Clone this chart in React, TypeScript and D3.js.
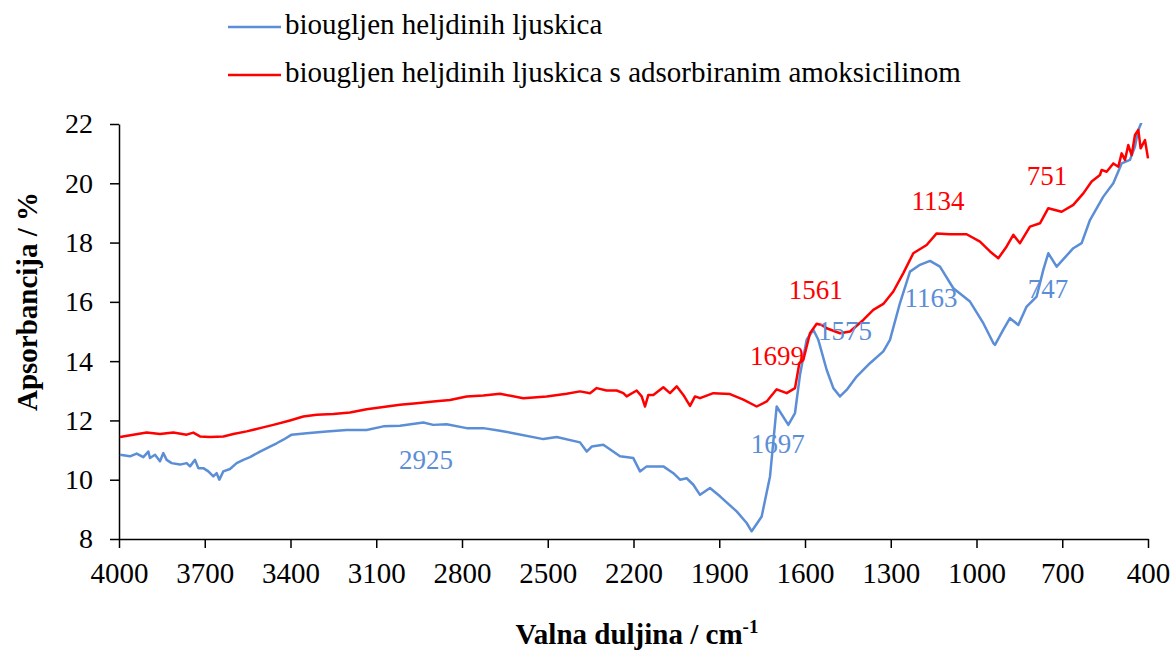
import React, { useEffect, useRef } from 'react';
import * as d3 from 'd3';

// FTIR spectrum, biochar from buckwheat husks (blue) and with adsorbed amoxicillin (red)
const blueWave = [
  3996.5, 3961.5, 3938.2, 3914.9, 3897.4, 3891.6, 3874.1, 3856.6, 3844.9, 3833.3,
  3815.8, 3786.6, 3763.3, 3751.6, 3734.1, 3722.5, 3705.0, 3687.5, 3670.0, 3658.3,
  3649.0, 3635.0, 3611.7, 3588.4, 3565.1, 3541.7, 3506.7, 3471.8, 3448.5, 3425.1,
  3396.0, 3343.5, 3273.5, 3203.6, 3133.6, 3075.3, 3017.0, 2935.3, 2900.3, 2853.7,
  2783.7, 2725.4, 2667.1, 2620.4, 2515.4, 2468.8, 2387.1, 2363.8, 2346.3, 2305.5,
  2247.2, 2200.6, 2177.3, 2153.9, 2095.6, 2060.6, 2037.3, 2014.0, 1990.6, 1967.3,
  1932.4, 1897.4, 1839.1, 1804.1, 1786.6, 1763.3, 1751.6, 1722.4, 1699.1, 1658.3,
  1635.0, 1617.5, 1594.2, 1570.9, 1553.4, 1524.3, 1500.9, 1477.6, 1454.3, 1419.3,
  1372.7, 1326.0, 1302.7, 1267.7, 1232.7, 1197.7, 1162.8, 1127.8, 1081.1, 1022.8,
  976.2, 941.2, 935.3, 906.2, 882.9, 853.7, 824.6, 789.6, 766.3, 748.8,
  719.6, 661.3, 632.1, 603.0, 556.3, 521.4, 492.2, 463.1, 445.6, 433.9,
  416.4, 400.0,
];
const blueAbs = [
  10.84, 10.79, 10.88, 10.76, 10.95, 10.73, 10.84, 10.62, 10.90, 10.67,
  10.56, 10.51, 10.56, 10.45, 10.67, 10.39, 10.39, 10.28, 10.11, 10.22,
  10.00, 10.28, 10.36, 10.56, 10.67, 10.76, 10.95, 11.12, 11.23, 11.35,
  11.52, 11.57, 11.63, 11.68, 11.68, 11.80, 11.82, 11.93, 11.85, 11.87,
  11.74, 11.74, 11.65, 11.57, 11.37, 11.44, 11.26, 10.95, 11.12, 11.18,
  10.79, 10.73, 10.28, 10.45, 10.45, 10.22, 10.00, 10.05, 9.83, 9.49,
  9.72, 9.44, 8.93, 8.54, 8.26, 8.59, 8.76, 10.11, 12.47, 11.85,
  12.25, 13.54, 14.72, 15.06, 14.72, 13.71, 13.09, 12.81, 13.03, 13.48,
  13.93, 14.33, 14.72, 15.96, 17.02, 17.25, 17.38, 17.19, 16.46, 16.01,
  15.28, 14.61, 14.55, 15.06, 15.45, 15.22, 15.84, 16.18, 17.08, 17.64,
  17.19, 17.81, 17.98, 18.76, 19.55, 20.00, 20.67, 20.79, 21.24, 21.80,
  22.20, 22.30,
];

const redWave = [
  3996.5, 3949.9, 3903.2, 3856.6, 3810.0, 3763.3, 3740.0, 3716.7, 3681.7, 3635.0,
  3600.0, 3553.4, 3506.7, 3460.1, 3401.8, 3355.2, 3308.6, 3250.2, 3191.9, 3133.6,
  3075.3, 3017.0, 2958.6, 2900.3, 2842.0, 2783.7, 2725.4, 2667.0, 2585.4, 2503.8,
  2433.8, 2387.1, 2352.2, 2328.8, 2293.9, 2258.9, 2235.5, 2223.9, 2188.9, 2171.4,
  2159.7, 2148.1, 2130.6, 2095.6, 2072.3, 2049.0, 2025.6, 2002.3, 1984.8, 1967.3,
  1920.7, 1862.4, 1815.7, 1769.1, 1734.1, 1699.1, 1664.1, 1635.0, 1619.8, 1605.9,
  1582.6, 1559.2, 1541.8, 1524.3, 1477.6, 1442.6, 1396.0, 1361.0, 1326.0, 1291.0,
  1256.0, 1221.1, 1174.4, 1139.4, 1092.8, 1034.5, 987.8, 952.8, 923.7, 894.5,
  871.2, 847.9, 812.9, 777.9, 748.8, 702.1, 661.3, 626.3, 597.2, 568.0,
  562.2, 544.7, 521.4, 503.9, 492.2, 480.6, 468.9, 457.2, 445.6, 433.9,
  425.7, 410.6, 400.0,
];
const redAbs = [
  11.44, 11.52, 11.59, 11.54, 11.59, 11.52, 11.59, 11.46, 11.44, 11.46,
  11.54, 11.63, 11.74, 11.85, 12.00, 12.13, 12.19, 12.22, 12.27, 12.38,
  12.45, 12.53, 12.58, 12.64, 12.69, 12.81, 12.84, 12.90, 12.75, 12.81,
  12.90, 12.98, 12.92, 13.09, 13.01, 13.01, 12.92, 12.81, 13.01, 12.81,
  12.47, 12.86, 12.86, 13.12, 12.92, 13.15, 12.86, 12.49, 12.81, 12.75,
  12.92, 12.89, 12.70, 12.47, 12.64, 13.05, 12.92, 13.09, 13.93, 14.04,
  14.94, 15.26, 15.22, 15.11, 14.94, 15.00, 15.39, 15.73, 15.93, 16.35,
  16.97, 17.64, 17.92, 18.31, 18.28, 18.28, 18.03, 17.70, 17.47, 17.87,
  18.26, 17.98, 18.54, 18.65, 19.16, 19.04, 19.27, 19.66, 20.06, 20.28,
  20.45, 20.39, 20.67, 20.56, 21.01, 20.79, 21.29, 20.95, 21.63, 21.80,
  21.18, 21.46, 20.84,
];

const xTicks = [4000, 3700, 3400, 3100, 2800, 2500, 2200, 1900, 1600, 1300, 1000, 700, 400];
const yTicks = [8, 10, 12, 14, 16, 18, 20, 22];

const seriesNames = [
  'biougljen heljdinih ljuskica',
  'biougljen heljdinih ljuskica s adsorbiranim amoksicilinom',
];

// peak labels: text, position in data units, series index
const peakText = ['2925', '1697', '1575', '1163', '747', '1699', '1561', '1134', '751'];
const peakWave = [2926, 1695, 1460, 1159, 750, 1698, 1562, 1135, 753];
const peakAbs = [10.37, 10.91, 14.72, 15.83, 16.13, 13.88, 16.1, 19.1, 19.94];
const peakSeries = [0, 0, 0, 0, 0, 1, 1, 1, 1];

const colors = ['#5B8ED6', '#FF0000'];
const font = "'Times New Roman', 'Liberation Serif', serif";

const App = () => {
  const svgRef = useRef<SVGSVGElement>(null);

  useEffect(() => {
    const width = 1174;
    const height = 653;
    const margin = { top: 124, right: 26, bottom: 114, left: 119 };

    const svg = d3.select(svgRef.current);
    svg.selectAll('*').remove();

    const x = d3.scaleLinear().domain([4000, 400]).range([margin.left, width - margin.right]);
    const y = d3.scaleLinear().domain([8, 22]).range([height - margin.bottom, margin.top]);

    svg.append('defs').append('clipPath').attr('id', 'plot-clip')
      .append('rect')
      .attr('x', margin.left)
      .attr('y', margin.top - 1)
      .attr('width', width - margin.left - margin.right + 2)
      .attr('height', height - margin.top - margin.bottom + 1);

    // axes
    const yAxis = svg.append('g')
      .attr('transform', `translate(${margin.left},0)`)
      .call(d3.axisLeft(y).tickValues(yTicks).tickFormat(d3.format('d')).tickSize(9).tickPadding(17).tickSizeOuter(0));
    const xAxis = svg.append('g')
      .attr('transform', `translate(0,${height - margin.bottom})`)
      .call(d3.axisBottom(x).tickValues(xTicks).tickFormat(d3.format('d')).tickSize(9).tickPadding(14).tickSizeOuter(0));

    yAxis.attr('font-size', 28);
    xAxis.attr('font-size', 29);
    [yAxis, xAxis].forEach(g => {
      g.attr('font-family', font);
      g.select('.domain').attr('stroke', '#000').attr('stroke-width', 1.5);
      g.selectAll('.tick line').attr('stroke', '#000').attr('stroke-width', 1.5);
      g.selectAll('.tick text').attr('fill', '#000');
    });

    // curves
    const line = d3.line<[number, number]>()
      .x(d => x(d[0]))
      .y(d => y(d[1]));

    const series = [
      d3.zip(blueWave, blueAbs) as [number, number][],
      d3.zip(redWave, redAbs) as [number, number][],
    ];

    svg.append('g')
      .attr('clip-path', 'url(#plot-clip)')
      .selectAll('path')
      .data(series)
      .enter()
      .append('path')
      .attr('d', d => line(d))
      .attr('fill', 'none')
      .attr('stroke', (d, i) => colors[i])
      .attr('stroke-width', 2.5)
      .attr('stroke-linejoin', 'round');

    // peak labels
    svg.append('g')
      .attr('font-family', font)
      .attr('font-size', 27)
      .selectAll('text')
      .data(peakText)
      .enter()
      .append('text')
      .attr('x', (d, i) => x(peakWave[i]))
      .attr('y', (d, i) => y(peakAbs[i]))
      .attr('text-anchor', 'middle')
      .attr('fill', (d, i) => colors[peakSeries[i]])
      .text(d => d);

    // legend
    const legend = svg.append('g')
      .attr('font-family', font)
      .attr('font-size', 29)
      .selectAll('g')
      .data(seriesNames)
      .enter()
      .append('g')
      .attr('transform', (d, i) => `translate(228,${27 + i * 48})`);
    legend.append('line')
      .attr('x1', 0).attr('x2', 53)
      .attr('stroke', (d, i) => colors[i])
      .attr('stroke-width', 2.5);
    legend.append('text')
      .attr('x', 57)
      .attr('y', 7)
      .text(d => d);

    // axis titles
    svg.append('text')
      .attr('transform', `translate(37,${(margin.top + height - margin.bottom) / 2 - 30}) rotate(-90)`)
      .attr('text-anchor', 'middle')
      .attr('font-family', font)
      .attr('font-size', 29)
      .attr('font-weight', 'bold')
      .text('Apsorbancija / %');

    const xTitle = svg.append('text')
      .attr('x', 637)
      .attr('y', 644)
      .attr('text-anchor', 'middle')
      .attr('font-family', font)
      .attr('font-size', 29)
      .attr('font-weight', 'bold');
    xTitle.append('tspan').text('Valna duljina / cm');
    xTitle.append('tspan')
      .attr('dy', -11)
      .attr('font-size', 19)
      .text('-1');
  }, []);

  return (
    <svg
      ref={svgRef}
      width={1174}
      height={653}
      style={{ position: 'absolute', left: 0, top: 0, background: '#fff' }}
    />
  );
};

export default App;
